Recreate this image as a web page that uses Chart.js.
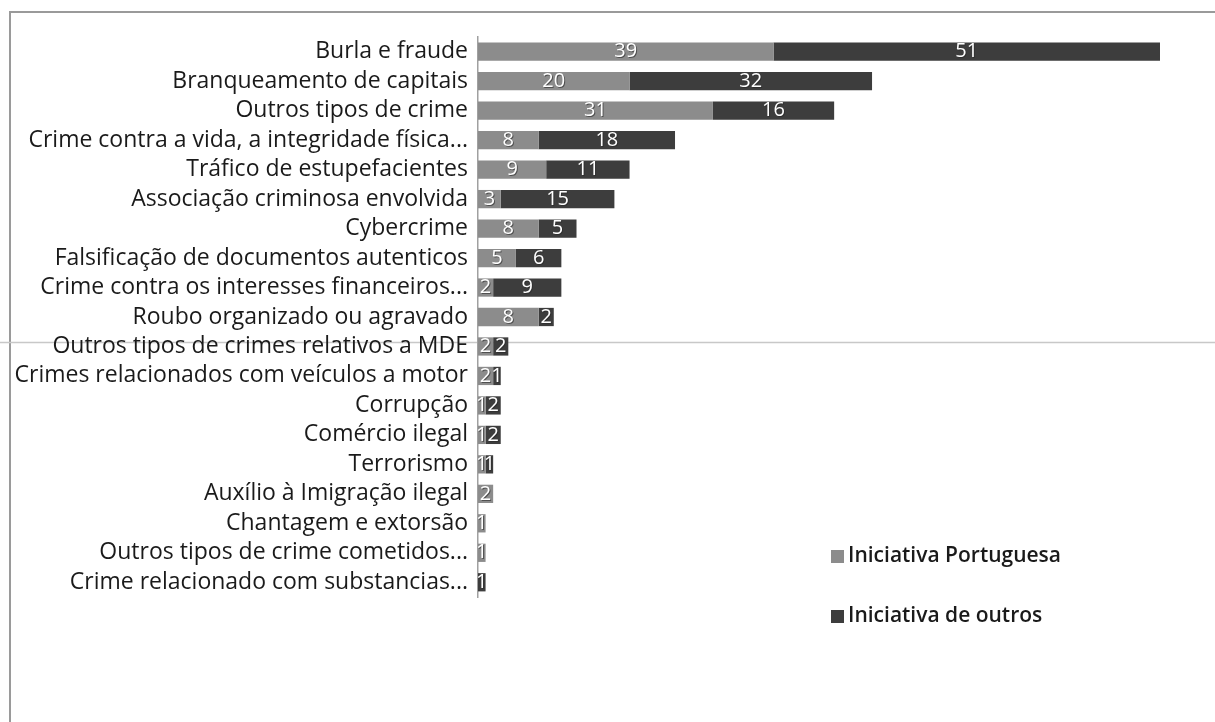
<!DOCTYPE html>
<html lang="pt">
<head>
  <meta charset="UTF-8">
  <title>Tipos de crime - MDE</title>
  <script src="https://cdn.jsdelivr.net/npm/chart.js"></script>
  <style>
    html, body { margin: 0; padding: 0; background: #fff; }
    .wrap { position: relative; width: 1215px; height: 722px; }
  </style>
</head>
<body>
  <div class="wrap">
    <canvas id="crimeChart" width="1215" height="722"></canvas>
  </div>

  <script>
    // categorias (de cima para baixo)
    const categorias = [
      "Burla e fraude",
      "Branqueamento de capitais",
      "Outros tipos de crime",
      "Crime contra a vida, a integridade física...",
      "Tráfico de estupefacientes",
      "Associação criminosa envolvida",
      "Cybercrime",
      "Falsificação de documentos autenticos",
      "Crime contra os interesses financeiros...",
      "Roubo organizado ou agravado",
      "Outros tipos de crimes relativos a MDE",
      "Crimes relacionados com veículos a motor",
      "Corrupção",
      "Comércio ilegal",
      "Terrorismo",
      "Auxílio à Imigração ilegal",
      "Chantagem e extorsão",
      "Outros tipos de crime cometidos...",
      "Crime relacionado com substancias..."
    ];

    const iniciativaPortuguesa = [39, 20, 31, 8, 9, 3, 8, 5, 2, 8, 2, 2, 1, 1, 1, 2, 1, 1, 0];
    const iniciativaOutros     = [51, 32, 16, 18, 11, 15, 5, 6, 9, 2, 2, 1, 2, 2, 1, 0, 0, 0, 1];

    const FONT = "'Open Sans', 'Noto Sans', sans-serif";

    // rotulos brancos dentro das barras
    const rotulos = {
      id: "rotulos",
      afterDatasetsDraw(chart) {
        const ctx = chart.ctx;
        ctx.save();
        ctx.font = "20px " + FONT;
        ctx.textAlign = "center";
        ctx.textBaseline = "middle";
        chart.data.datasets.forEach((ds, i) => {
          const meta = chart.getDatasetMeta(i);
          meta.data.forEach((bar, j) => {
            const v = ds.data[j];
            if (!v) return;
            const p = bar.getProps(["x", "y", "base"], true);
            const cx = (p.x + p.base) / 2;
            ctx.fillStyle = "rgba(40,40,40,0.6)";
            ctx.fillText(v, cx + 1, p.y + 1);
            ctx.fillStyle = "#ffffff";
            ctx.fillText(v, cx, p.y);
          });
        });
        ctx.restore();
      }
    };

    // moldura e legenda
    const moldura = {
      id: "moldura",
      beforeDraw(chart) {
        const ctx = chart.ctx;
        ctx.save();
        ctx.strokeStyle = "#9a9a9a";
        ctx.lineWidth = 2;
        ctx.beginPath();
        ctx.moveTo(10, 722);
        ctx.lineTo(10, 12);
        ctx.lineTo(1215, 12);
        ctx.stroke();
        ctx.strokeStyle = "#c8c8c8";
        ctx.lineWidth = 1.5;
        ctx.beginPath();
        ctx.moveTo(0, 342.5);
        ctx.lineTo(1215, 342.5);
        ctx.stroke();
        ctx.restore();
      },
      afterDraw(chart) {
        const ctx = chart.ctx;
        ctx.save();
        ctx.font = "600 21px " + FONT;
        ctx.textBaseline = "middle";
        const ys = [556, 616];
        chart.data.datasets.forEach((ds, i) => {
          ctx.fillStyle = ds.backgroundColor;
          ctx.fillRect(831, ys[i] - 6, 13, 13);
          ctx.fillStyle = "#1a1a1a";
          ctx.fillText(ds.label, 848, ys[i]);
        });
        ctx.restore();
      }
    };

    new Chart(document.getElementById("crimeChart"), {
      type: "bar",
      data: {
        labels: categorias,
        datasets: [
          {
            label: "Iniciativa Portuguesa",
            data: iniciativaPortuguesa,
            backgroundColor: "#8c8c8c",
            barPercentage: 0.62,
            categoryPercentage: 1
          },
          {
            label: "Iniciativa de outros",
            data: iniciativaOutros,
            backgroundColor: "#3d3d3d",
            barPercentage: 0.62,
            categoryPercentage: 1
          }
        ]
      },
      options: {
        indexAxis: "y",
        responsive: false,
        animation: false,
        layout: { padding: { top: 37, bottom: 125, left: 0, right: 55 } },
        plugins: {
          legend: { display: false },
          tooltip: { enabled: false }
        },
        scales: {
          x: {
            stacked: true,
            min: 0,
            max: 90,
            display: false
          },
          y: {
            stacked: true,
            grid: { display: false, drawTicks: false },
            border: { display: true, color: "#a0a0a0", width: 1.5 },
            ticks: {
              color: "#1a1a1a",
              padding: 10,
              autoSkip: false,
              font: { family: FONT, size: 23 }
            },
            afterFit(scale) { scale.width = 478; }
          }
        }
      },
      plugins: [rotulos, moldura]
    });
  </script>
</body>
</html>
